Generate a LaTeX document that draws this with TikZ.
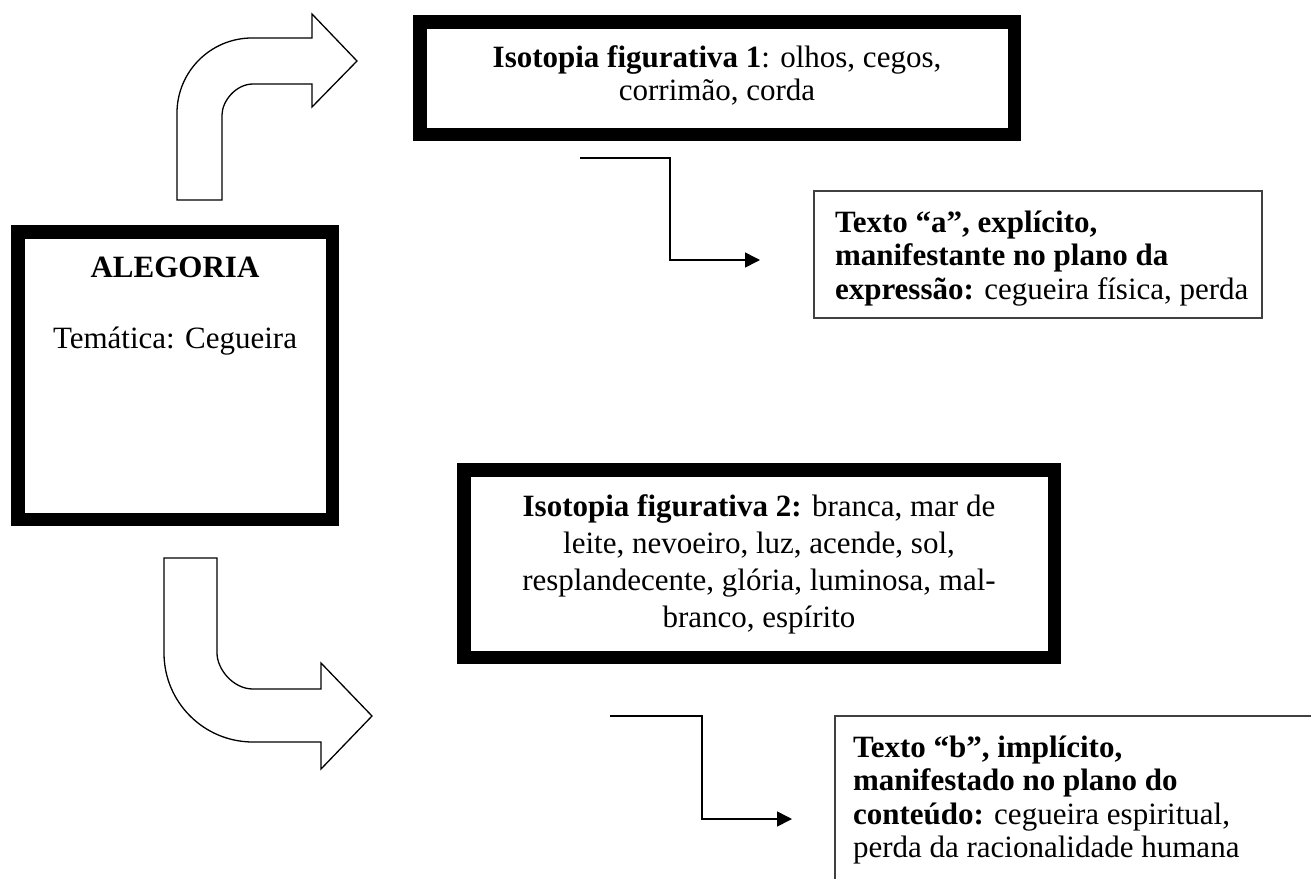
\documentclass[tikz,border=0pt]{standalone}
\usepackage{fontspec}
\setmainfont{Liberation Serif}
\usetikzlibrary{arrows.meta}
\begin{document}
\begin{tikzpicture}[x=1pt,y=-1pt,
  thickbox/.style={draw=black,line width=13.5pt,rectangle,inner sep=0pt,outer sep=0pt},
  thinbox/.style={draw=black!75,line width=1.5pt,rectangle,inner sep=0pt,outer sep=0pt},
  txt/.style={inner sep=0pt,outer sep=0pt,font=\fontsize{31}{33.5}\selectfont},
  elbow/.style={draw=black,line width=1.6pt,-{Triangle[length=15pt,width=15pt]}},
  blockarrow/.style={draw=black,line width=1.3pt,fill=white,line join=miter}
]
% page
\clip (0,0) rectangle (1311,878);
\fill[white] (0,0) rectangle (1311,878);

% main box
\node[thickbox,minimum width=314.5pt,minimum height=287.5pt] (alegoria) at (175,375.5) {};
\node[txt,anchor=north,align=center] (alegoriatxt) at (175,253.55)
  {\strut\textbf{ALEGORIA}\\[37.5pt]Temática: Cegueira};

% first isotopy
\node[thickbox,minimum width=594.5pt,minimum height=112.5pt] (iso1) at (717,78) {};
\node[txt,anchor=north,align=center] (iso1txt) at (717,43.55)
  {\strut\textbf{Isotopia figurativa 1}: olhos, cegos,\\corrimão, corda};

% second isotopy
\node[thickbox,minimum width=590.5pt,minimum height=187.5pt] (iso2) at (759,563.5) {};
\node[txt,font=\fontsize{31}{37}\selectfont,anchor=north,align=center] (iso2txt) at (759,490.1)
  {\strut\textbf{Isotopia figurativa 2:} branca, mar de\\leite, nevoeiro, luz, acende, sol,\\resplandecente, glória, luminosa, mal-\\branco, espírito};

% text a
\node[thinbox,minimum width=448pt,minimum height=127pt] (texta) at (1038,254.5) {};
\node[txt,anchor=north west,align=left] (textatxt) at (835,208.55)
  {\strut\textbf{Texto “a”, explícito,}\\\textbf{manifestante no plano da}\\\textbf{expressão:} cegueira física, perda};

% text b
\node[thinbox,minimum width=505pt,minimum height=184pt] (textb) at (1087.5,808) {};
\node[txt,anchor=north west,align=left] (textbtxt) at (853,733.55)
  {\strut\textbf{Texto “b”, implícito,}\\\textbf{manifestado no plano do}\\\textbf{conteúdo:} cegueira espiritual,\\perda da racionalidade humana};

% bent block arrows
\draw[blockarrow] (177,200) -- (177,113)
  .. controls (177,71.6) and (210.6,38) .. (252,38)
  -- (312,38) -- (312,14) -- (357,61) -- (312,107) -- (312,84) -- (253,84)
  .. controls (235.9,84) and (222,101.1) .. (222,115)
  -- (222,200) -- cycle;
\draw[blockarrow] (164,558) -- (164,653)
  .. controls (164,702.2) and (203.8,742) .. (253,742)
  -- (321,742) -- (321,769) -- (372,716) -- (321,663) -- (321,689) -- (253,689)
  .. controls (233.1,689) and (217,669.1) .. (217,653)
  -- (217,558) -- cycle;

% elbow connectors
\coordinate (s1) at (580,158);
\coordinate (e1) at (760,260);
\draw[elbow] (s1) -- ++(90,0) |- (e1);
\coordinate (s2) at (610,716);
\coordinate (e2) at (792,819);
\draw[elbow] (s2) -- ++(92,0) |- (e2);
\end{tikzpicture}
\end{document}
